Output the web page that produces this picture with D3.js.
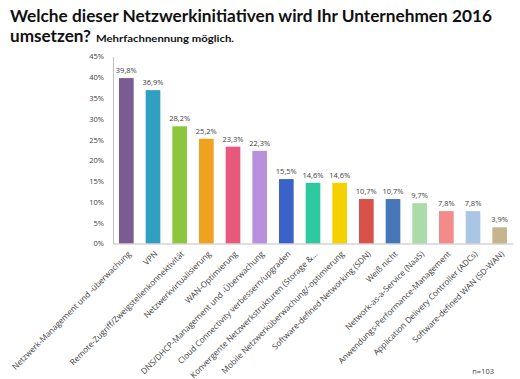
<!DOCTYPE html>
<html><head><meta charset="utf-8">
<script src="https://cdn.jsdelivr.net/npm/d3@7"></script>
<style>body{margin:0;background:#fff}svg{display:block}</style>
</head><body><svg id="c" width="520" height="379"></svg>
<script>
const categories = ["Netzwerk-Management und -überwachung","VPN","Remote-Zugriff/Zweigstellenkonnektivität","Netzwerkvirtualisierung","WAN-Optimierung","DNS/DHCP-Management und -Überwachung","Cloud Connectivity verbessern/upgraden","Konvergente Netzwerkstrukturen (Storage &...","Mobile Netzwerküberwachung/-optimierung","Software-defined Networking (SDN)","Weiß nicht","Network-as-a-Service (NaaS)","Anwendungs-Performance-Management","Application Delivery Controller (ADCs)","Software-defined WAN (SD-WAN)"];
const values = [39.8,36.9,28.2,25.2,23.3,22.3,15.5,14.6,14.6,10.7,10.7,9.7,7.8,7.8,3.9];
const colors = ["#7b5b94","#2fa0c2","#8cc63e","#f0a11d","#e8587c","#b990dd","#3a62c8","#2ec99f","#f6d100","#d9524a","#4677b8","#a9dca8","#f48b8b","#aac6e5","#c5b58b"];
const yTicks = [0,5,10,15,20,25,30,35,40,45];

const svg = d3.select("#c");
const font = "'Open Sans', sans-serif";
const tfont = "Lato, 'Open Sans', sans-serif";
const x = d3.scaleBand().domain(categories).range([113,513]).paddingInner(0.45).paddingOuter(0.225);
const y = d3.scaleLinear().domain([0,45]).range([243.5,56.5]);

// title
svg.append("text").attr("font-family",tfont).attr("font-weight","bold").attr("fill","#111")
  .attr("x",10).attr("y",22).attr("font-size",17.5)
  .attr("textLength",482).attr("lengthAdjust","spacingAndGlyphs")
  .text("Welche dieser Netzwerkinitiativen wird Ihr Unternehmen 2016");
svg.append("text").attr("font-family",tfont).attr("font-weight","bold").attr("fill","#111")
  .attr("x",10).attr("y",42).attr("font-size",17.5)
  .attr("textLength",81).attr("lengthAdjust","spacingAndGlyphs").text("umsetzen?");
svg.append("text").attr("font-family",tfont).attr("font-weight","bold").attr("fill","#111")
  .attr("x",96).attr("y",42).attr("font-size",9.5)
  .attr("textLength",138).attr("lengthAdjust","spacingAndGlyphs").text("Mehrfachnennung möglich.");

// y axis
const ya = svg.append("g").attr("transform","translate(113,0)")
  .call(d3.axisLeft(y).tickValues(yTicks).tickSize(0).tickPadding(9).tickFormat(d=>d+"%"));
ya.select(".domain").attr("stroke","#bfbfbf");
ya.selectAll("text").attr("font-family",font).attr("font-size",7.5).attr("fill","#404040");

// bars
svg.selectAll("rect.bar").data(values).join("rect").attr("class","bar")
  .attr("x",(d,i)=>x(categories[i])).attr("width",x.bandwidth())
  .attr("y",d=>y(d)).attr("height",d=>y(0)-y(d)).attr("fill",(d,i)=>colors[i]);

// value labels
svg.selectAll("text.val").data(values).join("text").attr("class","val")
  .attr("x",(d,i)=>x(categories[i])+x.bandwidth()/2).attr("y",d=>y(d)-5)
  .attr("text-anchor","middle").attr("font-family",font).attr("font-size",7.5).attr("fill","#404040")
  .text(d=>d.toFixed(1).replace(".",",")+"%");

// x axis
const xa = svg.append("g").attr("transform","translate(0,243.5)")
  .call(d3.axisBottom(x).tickSize(0).tickPadding(0));
xa.select(".domain").attr("stroke","#bfbfbf");
xa.selectAll("text").attr("font-family",font).attr("font-size",8.2).attr("fill","#404040")
  .attr("text-anchor","end").attr("dy",null).attr("y",0)
  .attr("transform","translate(5,11) rotate(-45)");

svg.append("text").attr("x",494).attr("y",374).attr("text-anchor","end")
  .attr("font-family",font).attr("font-size",7.5).attr("fill","#404040").text("n=103");
</script></body></html>
